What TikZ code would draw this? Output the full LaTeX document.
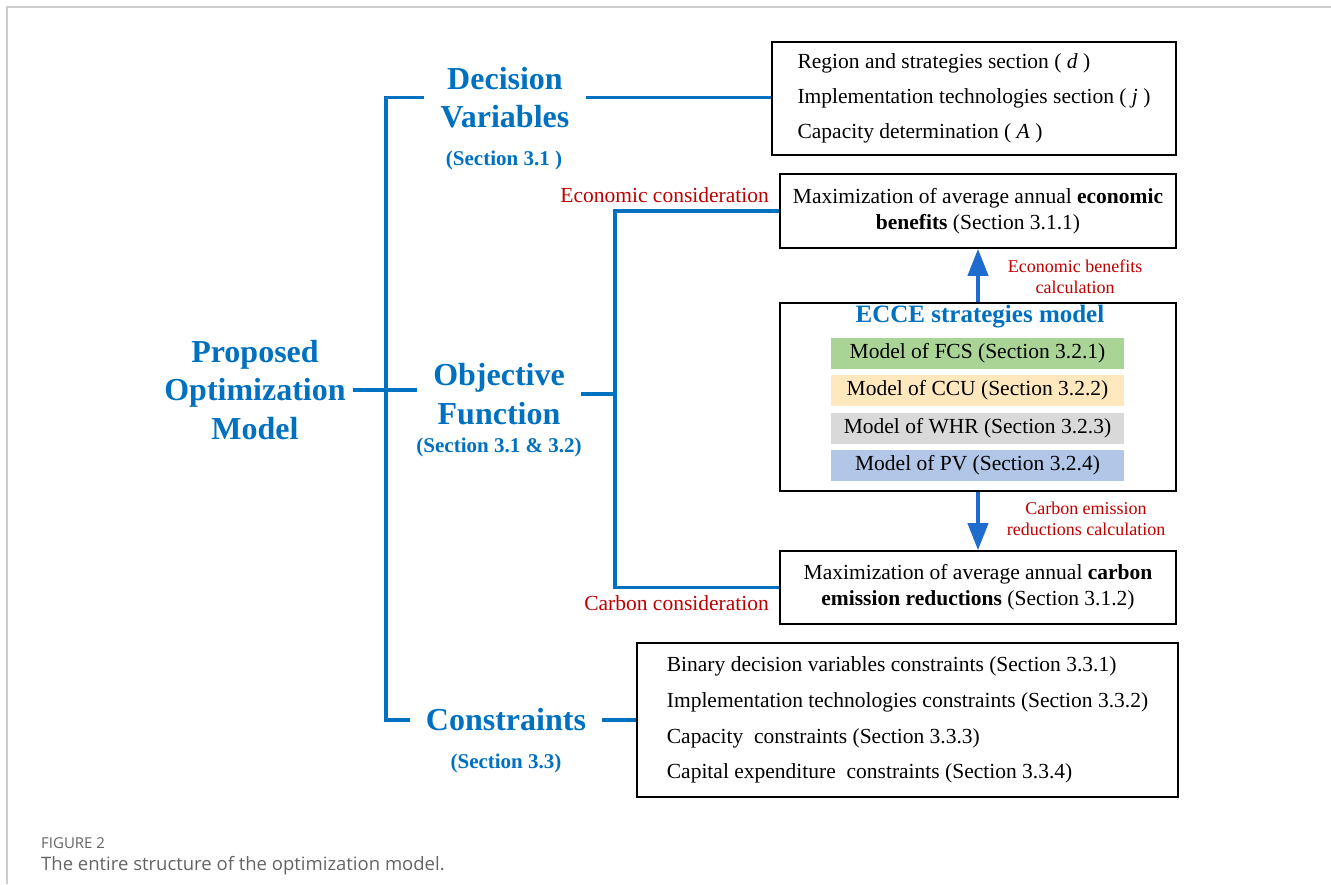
\documentclass[tikz,border=0pt]{standalone}
\usepackage{fontspec}
\setmainfont{Liberation Serif}
\newfontfamily\capfont{Open Sans}
\usetikzlibrary{arrows.meta}
\definecolor{titleblue}{RGB}{0,112,192}
\definecolor{arrowblue}{RGB}{30,108,205}
\definecolor{redtxt}{RGB}{192,0,0}
\definecolor{fcsgreen}{RGB}{169,212,150}
\definecolor{ccupeach}{RGB}{255,232,190}
\definecolor{whrgrey}{RGB}{217,217,217}
\definecolor{pvblue}{RGB}{178,198,231}
\definecolor{framegrey}{RGB}{205,205,205}
\definecolor{capgrey}{RGB}{100,100,100}
\tikzstyle{heading} = [align=center, text=titleblue, font=\bfseries\fontsize{32}{38.5}\selectfont, inner xsep=16pt, inner ysep=0pt]
\tikzstyle{section} = [align=center, text=titleblue, font=\bfseries\fontsize{21}{25}\selectfont, inner sep=0pt]
\tikzstyle{block} = [rectangle, draw, line width=1.6pt, minimum width=396pt, text centered]
\tikzstyle{listbox} = [block, align=left, font=\fontsize{21.5}{35}\selectfont]
\tikzstyle{goal} = [block, align=center, minimum height=74pt, font=\fontsize{21.5}{26}\selectfont]
\tikzstyle{bar} = [rectangle, minimum width=293pt, minimum height=31pt, inner sep=0pt, font=\fontsize{21.5}{25}\selectfont]
\tikzstyle{note} = [text=redtxt, font=\fontsize{21.5}{25}\selectfont, inner sep=0pt]
\tikzstyle{smallnote} = [text=redtxt, align=center, font=\fontsize{18}{21.5}\selectfont, inner sep=0pt]
\tikzstyle{branch} = [draw=titleblue, line width=3.5pt]
\tikzstyle{arrow} = [draw=arrowblue, line width=4pt, -{Triangle[length=27pt,width=20pt]}]

\begin{document}
\begin{tikzpicture}[x=1pt, y=-1pt]
    \useasboundingbox (0,0) rectangle (1331,884);
    \draw [framegrey, line width=1.5pt] (7,884) -- (7,7) -- (1331,7);

    \node [heading, inner xsep=7pt] at (255,390) (model) {Proposed\\Optimization\\Model};
    \node [heading] at (505,97.5) (dv) {Decision\\Variables};
    \node [section] at (504,160) (dvsec) {(Section 3.1 )};
    \node [heading] at (499,394) (obj) {Objective\\Function};
    \node [section] at (499,447) (objsec) {(Section 3.1 \& 3.2)};
    \node [heading] at (506,720) (cons) {Constraints};
    \node [section] at (506,763) (conssec) {(Section 3.3)};

    \node [listbox, minimum width=404pt, minimum height=113pt] at (974,98.5) (decbox) {Region and strategies section ( \textit{d} )\\Implementation technologies section ( \textit{j} )\\Capacity determination ( \textit{A} )};
    \node [goal] at (978,211) (econbox) {Maximization of average annual \textbf{economic}\\\textbf{benefits} (Section 3.1.1)};
    \node [block, minimum height=188pt] at (978,397) (ecce) {};
    \node [text=titleblue, font=\bfseries\fontsize{25}{30}\selectfont, inner sep=0pt] at (980,317) (eccetitle) {ECCE strategies model};
    \node [bar, fill=fcsgreen] at (977.5,353.5) (fcs) {Model of FCS (Section 3.2.1)};
    \node [bar, fill=ccupeach] at (977.5,390.5) (ccu) {Model of CCU (Section 3.2.2)};
    \node [bar, fill=whrgrey] at (977.5,428) (whr) {Model of WHR (Section 3.2.3)};
    \node [bar, fill=pvblue] at (977.5,465.5) (pv) {Model of PV (Section 3.2.4)};
    \node [goal, minimum height=73pt] at (978,587.5) (carbbox) {Maximization of average annual \textbf{carbon}\\\textbf{emission reductions} (Section 3.1.2)};
    \node [listbox, minimum width=541pt, minimum height=154pt, font=\fontsize{21.5}{35.7}\selectfont] at (907.5,720) (consbox) {Binary decision variables constraints (Section 3.3.1)\\Implementation technologies constraints (Section 3.3.2)\\Capacity\ \ constraints (Section 3.3.3)\\Capital expenditure\ \ constraints (Section 3.3.4)};

    \node [note, anchor=east] at (769,195) (econsider) {Economic consideration};
    \node [note, anchor=east] at (769,603) (carbconsider) {Carbon consideration};
    \node [smallnote] at (1075,276.5) (econcalc) {Economic benefits\\calculation};
    \node [smallnote] at (1086,519) (carbcalc) {Carbon emission\\reductions calculation};

    \coordinate (spine) at (386,0);
    \coordinate (rib) at (615,0);
    \draw [branch] (model.east) -- (model.east -| obj.west);
    \draw [branch] (dv.west) -- (dv.west -| spine) -- (cons.west -| spine) -- (cons.west);
    \draw [branch] (dv.east) -- (dv.east -| decbox.west);
    \draw [branch] (cons.east) -- (cons.east -| consbox.west);
    \draw [branch] (econbox.west) -- (econbox.west -| rib) -- (carbbox.west -| rib) -- (carbbox.west);
    \draw [branch] (obj.east) -- (obj.east -| rib);
    \draw [arrow] (ecce.north) -- (econbox.south);
    \draw [arrow] (ecce.south) -- (carbbox.north);

    \node [anchor=west, text=capgrey, font=\capfont\fontsize{15}{17}\selectfont, inner sep=0pt] at (41,843) (figlabel) {FIGURE 2};
    \node [anchor=west, text=capgrey, font=\capfont\fontsize{18.5}{21}\selectfont, inner sep=0pt] at (41,866) (figcaption) {The entire structure of the optimization model.};
\end{tikzpicture}
\end{document}
